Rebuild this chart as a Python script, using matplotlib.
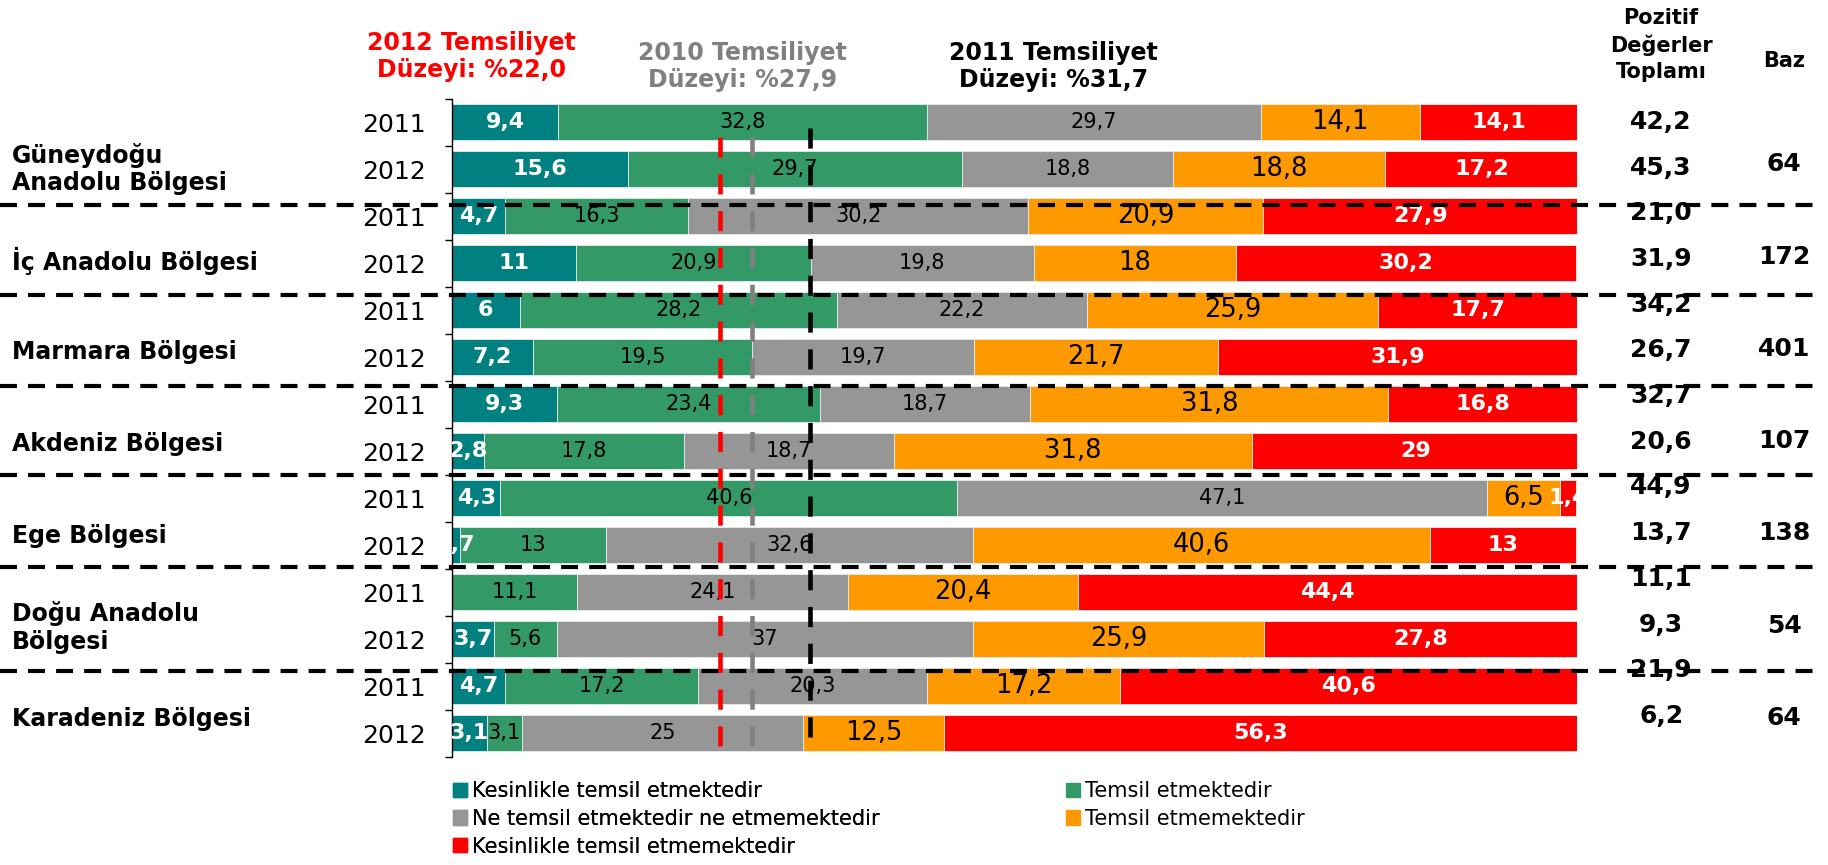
import numpy as np
import matplotlib
matplotlib.use('Agg')
import matplotlib.pyplot as plt
from matplotlib.transforms import blended_transform_factory
from matplotlib.patches import Patch
from matplotlib.lines import Line2D

plt.rcParams['font.family'] = ['DejaVu Sans']
plt.rcParams['lines.scale_dashes'] = False

# data (top to bottom: each region 2011 then 2012)
regions = ['Güneydoğu\nAnadolu Bölgesi', 'İç Anadolu Bölgesi', 'Marmara Bölgesi',
           'Akdeniz Bölgesi', 'Ege Bölgesi', 'Doğu Anadolu\nBölgesi', 'Karadeniz Bölgesi']
years = ['2011', '2012']
categories = ['Kesinlikle temsil etmektedir', 'Temsil etmektedir',
              'Ne temsil etmektedir ne etmemektedir', 'Temsil etmemektedir',
              'Kesinlikle temsil etmemektedir']
colors = ['#008080', '#339966', '#969696', '#FF9900', '#FF0000']

kesinlikle_temsil = [9.4, 15.6, 4.7, 11, 6, 7.2, 9.3, 2.8, 4.3, 0.7, 0, 3.7, 4.7, 3.1]
temsil = [32.8, 29.7, 16.3, 20.9, 28.2, 19.5, 23.4, 17.8, 40.6, 13, 11.1, 5.6, 17.2, 3.1]
ne_ne = [29.7, 18.8, 30.2, 19.8, 22.2, 19.7, 18.7, 18.7, 47.1, 32.6, 24.1, 37, 20.3, 25]
temsil_etmemek = [14.1, 18.8, 20.9, 18, 25.9, 21.7, 31.8, 31.8, 6.5, 40.6, 20.4, 25.9, 17.2, 12.5]
kesinlikle_etmemek = [14.1, 17.2, 27.9, 30.2, 17.7, 31.9, 16.8, 29, 1.4, 13, 44.4, 27.8, 40.6, 56.3]

pozitif = [42.2, 45.3, 21.0, 31.9, 34.2, 26.7, 32.7, 20.6, 44.9, 13.7, 11.1, 9.3, 21.9, 6.2]
baz = [64, 172, 401, 107, 138, 54, 64]

level_titles = ['2012 Temsiliyet\nDüzeyi: %22,0', '2010 Temsiliyet\nDüzeyi: %27,9',
                '2011 Temsiliyet\nDüzeyi: %31,7']
level_lines = [23.8, 26.7, 31.8]   # where the dashed lines sit in the picture
level_colors = ['#FF0000', '#808080', '#000000']


def fmt(v):
    if v == int(v):
        return str(int(v))
    return str(v).replace('.', ',')


series = [kesinlikle_temsil, temsil, ne_ne, temsil_etmemek, kesinlikle_etmemek]
label_style = [dict(color='white', fontweight='bold', fontsize=16),
               dict(color='black', fontsize=15),
               dict(color='black', fontsize=15),
               dict(color='black', fontsize=18.5),
               dict(color='white', fontweight='bold', fontsize=16)]

n = len(kesinlikle_temsil)
ypos = np.arange(n)

fig = plt.figure(figsize=(18.28, 8.65), dpi=100)
ax = fig.add_axes([0.2473, 0.1254, 0.6155, 0.7607])

left = np.zeros(n)
for vals, col, st in zip(series, colors, label_style):
    vals = np.array(vals, dtype=float)
    ax.barh(ypos, vals, left=left, height=0.76, color=col, edgecolor='#e4ecec',
            linewidth=0.6, zorder=2)
    for y, l, v in zip(ypos, left, vals):
        if v > 0:
            ax.text(l + v / 2, y, fmt(v), ha='center', va='center', clip_on=True,
                    zorder=4, **st)
    left += vals

ax.set_xlim(0, 100)
ax.set_ylim(n - 0.5, -0.5)
ax.set_yticks(ypos)
ax.set_yticklabels(years * len(regions), fontsize=18)
ax.set_yticks(np.arange(-0.5, n, 1.0), minor=True)
ax.tick_params(axis='y', which='major', length=0, pad=19)
ax.tick_params(axis='y', which='minor', length=5, width=1)
ax.set_xticks([])
for s in ['top', 'right', 'bottom']:
    ax.spines[s].set_visible(False)
ax.spines['left'].set_linewidth(1)

# dashed level lines
line_spans = [(0.31, 13.32), (0.31, 13.32), (0.13, 13.15)]
for x, c, (y0, y1) in zip(level_lines, level_colors, line_spans):
    ax.plot([x, x], [y0, y1], color=c, lw=3.3, dashes=(14.5, 12), zorder=5)

# header texts
header_pos = [(0.2577, 0.9347), (0.4064, 0.9231), (0.5765, 0.9231)]
for t, c, (hx, hy) in zip(level_titles, level_colors, header_pos):
    fig.text(hx, hy, t, color=c, fontsize=17, fontweight='bold', ha='center',
             va='center', linespacing=1.2)

fig.text(0.9087, 0.948, 'Pozitif\nDeğerler\nToplamı', fontsize=15, fontweight='bold',
         ha='center', va='center', linespacing=1.4)
fig.text(0.9759, 0.930, 'Baz', fontsize=15, fontweight='bold', ha='center', va='center')

trans = blended_transform_factory(fig.transFigure, ax.transData)

# region names
for k, r in enumerate(regions):
    ax.text(0.0066, 1 + 1.95 * k, r, transform=trans, fontsize=17, fontweight='bold',
            ha='left', va='center', linespacing=1.2)

# right hand columns
for i, p in enumerate(pozitif):
    ax.text(0.9087, i * 0.972, '{:.1f}'.format(p).replace('.', ','), transform=trans,
            fontsize=18, fontweight='bold', ha='center', va='center', clip_on=False)
for k, b in enumerate(baz):
    ax.text(0.9759, 0.9 + 1.963 * k, str(b), transform=trans, fontsize=18,
            fontweight='bold', ha='center', va='center', clip_on=False)

# group separators
sep_y = [1.765, 3.68, 5.61, 7.52, 9.46, 11.69]
for sy in sep_y:
    fig.add_artist(Line2D([0, 0.992], [sy, sy], transform=trans, color='black',
                          lw=3, dashes=(12.2, 8), zorder=6))

# legend in two columns
handles = [Patch(color=c) for c in colors]
leg_kw = dict(loc='upper left', frameon=False, fontsize=15, handlelength=0.67,
              handleheight=0.67, handletextpad=0.25, labelspacing=0.37,
              borderaxespad=0, borderpad=0)
leg1 = fig.legend([handles[0], handles[2], handles[4]],
                  [categories[0], categories[2], categories[4]],
                  bbox_to_anchor=(0.2478, 0.097), **leg_kw)
leg2 = fig.legend([handles[1], handles[3]], [categories[1], categories[3]],
                  bbox_to_anchor=(0.583, 0.097), **leg_kw)
fig.add_artist(leg1)

fig.savefig('out.png', dpi=100)
